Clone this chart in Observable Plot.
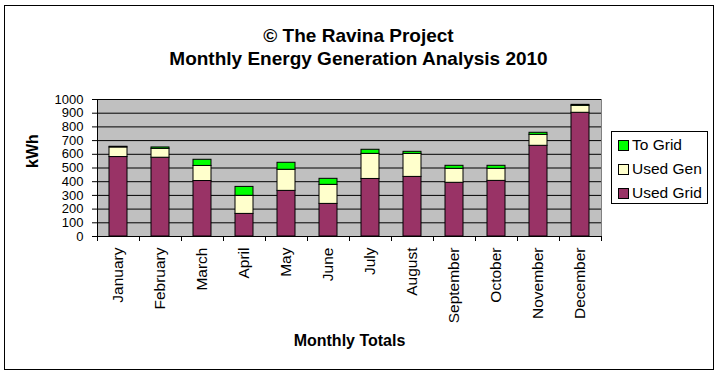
<!DOCTYPE html>
<html>
<head>
<meta charset="utf-8">
<script src="https://cdn.jsdelivr.net/npm/d3@7"></script>
<script src="https://cdn.jsdelivr.net/npm/@observablehq/plot@0.6"></script>
<style>
  html, body { margin: 0; padding: 0; background: #fff; }
  #wrap { position: relative; width: 717px; height: 375px; font-family: "Liberation Sans", Arial, sans-serif; }
  #border { position: absolute; left: 4px; top: 5px; width: 708px; height: 363px; border: 1px solid #000; pointer-events: none; }
  #legend { position: absolute; left: 611px; top: 131px; width: 95px; height: 71px; border: 1px solid #000; background: #fff; font-size: 15.5px; }
  #legend .row { position: absolute; left: 6px; height: 18px; line-height: 18px; white-space: nowrap; }
  #legend .sw { display: inline-block; width: 9px; height: 9px; border: 1px solid #000; margin-right: 3px; vertical-align: -1px; }
</style>
</head>
<body>
<div id="wrap"></div>
<script>
const months = ["January","February","March","April","May","June","July","August","September","October","November","December"];
const usedGrid = [580, 575, 405, 165, 333, 238, 420, 435, 392, 406, 662, 903];
const usedGen  = [70, 65, 110, 132, 154, 139, 183, 168, 102, 88, 80, 51];
const toGrid   = [5, 10, 45, 65, 51, 44, 30, 15, 22, 22, 15, 7];
const seriesNames = ["Used Grid", "Used Gen", "To Grid"];
const seriesColors = ["#993366", "#FFFFCC", "#00FF00"];
const yTicks = [0,100,200,300,400,500,600,700,800,900,1000];
const titleLines = ["© The Ravina Project", "Monthly Energy Generation Analysis 2010"];
const xTitle = "Monthly Totals";
const yTitle = "kWh";

const seriesValues = [usedGrid, usedGen, toGrid];
const data = [];
months.forEach((m, i) => {
  seriesNames.forEach((s, k) => data.push({month: m, series: s, value: seriesValues[k][i]}));
});

const W = 717, H = 375;
const mL = 97, mR = 116, mT = 99, mB = 139;
const step = (W - mL - mR) / months.length;

const chart = Plot.plot({
  width: W, height: H,
  marginLeft: mL, marginRight: mR, marginTop: mT, marginBottom: mB,
  style: {fontFamily: '"Liberation Sans", Arial, sans-serif', fontSize: "15.5px", color: "#000", background: "transparent", overflow: "visible"},
  x: {domain: months, paddingInner: 0.57, paddingOuter: 0.285, label: null},
  y: {domain: [0, 1000], label: null},
  color: {domain: seriesNames, range: seriesColors},
  marks: [
    Plot.frame({fill: "#C0C0C0", stroke: "#808080"}),
    Plot.gridY(yTicks, {stroke: "#000", strokeOpacity: 1}),
    Plot.barY(data, Plot.stackY({x: "month", y: "value", z: "series", fill: "series", order: seriesNames, stroke: "#000", strokeWidth: 1})),
    Plot.frame({anchor: "left", stroke: "#000"}),
    Plot.frame({anchor: "bottom", stroke: "#000"}),
    Plot.axisY({ticks: yTicks, tickSize: 5, tickPadding: 9, fontSize: "13px", tickFormat: d3.format("d"), label: null}),
    Plot.axisX({tickSize: 0, tickPadding: 11, tickRotate: -90, label: null}),
    Plot.ruleX(months, {x: d => d, y1: 0, y2: 0, insetBottom: -5, dx: -step / 2, stroke: "#000"}),
    Plot.ruleX(months.slice(-1), {x: d => d, y1: 0, y2: 0, insetBottom: -5, dx: step / 2, stroke: "#000"}),
    Plot.text([xTitle], {text: d => d, frameAnchor: "bottom", dy: 109, fontWeight: "bold", fontSize: 16}),
    Plot.text([yTitle], {text: d => d, frameAnchor: "left", dx: -65, rotate: -90, fontWeight: "bold", fontSize: 16}),
    Plot.text([titleLines[0]], {text: d => d, frameAnchor: "top", dx: 9, dy: -71, fontWeight: "bold", fontSize: 19}),
    Plot.text([titleLines[1]], {text: d => d, frameAnchor: "top", dx: 9, dy: -48, fontWeight: "bold", fontSize: 19})
  ]
});
chart.style.position = "absolute";
chart.style.left = "0px";
chart.style.top = "0px";
const wrap = document.getElementById("wrap");
wrap.appendChild(chart);

const border = document.createElement("div");
border.id = "border";
wrap.appendChild(border);

const legend = document.createElement("div");
legend.id = "legend";
const legendOrder = [2, 1, 0];
legendOrder.forEach((k, r) => {
  const row = document.createElement("div");
  row.className = "row";
  row.style.top = (4 + r * 24) + "px";
  const sw = document.createElement("span");
  sw.className = "sw";
  sw.style.background = seriesColors[k];
  row.appendChild(sw);
  row.appendChild(document.createTextNode(seriesNames[k]));
  legend.appendChild(row);
});
wrap.appendChild(legend);
</script>
</body>
</html>
